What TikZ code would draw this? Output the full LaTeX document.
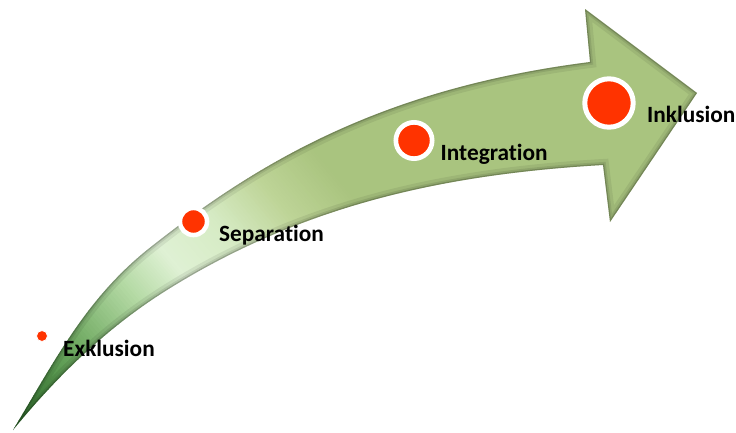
\documentclass[tikz,border=0pt]{standalone}
\usepackage{fontspec}
\setmainfont{Carlito}[Ligatures={NoCommon}]
\definecolor{ga}{HTML}{2E6B2C}
\definecolor{gb}{HTML}{4C8E45}
\definecolor{gc}{HTML}{74AD66}
\definecolor{gd}{HTML}{B5DAA5}
\definecolor{ge}{HTML}{DFF1D4}
\definecolor{gf}{HTML}{D6EBC4}
\definecolor{gg}{HTML}{BED497}
\definecolor{gh}{HTML}{A9C47F}
\definecolor{dotred}{HTML}{FF3300}
\tikzset{
  dotbase/.style={circle, draw=white, fill=dotred, inner sep=0pt},
  lbl/.style={anchor=base west, inner sep=0pt, font=\fontsize{23.3}{28}\selectfont\bfseries, text=black},
}
\begin{document}
\begin{tikzpicture}[x=1pt,y=-1pt]
\useasboundingbox (0,0) rectangle (736,432);
\def\arrowoutline{(13,430) .. controls (54.4,361.6) and (84.8,300.4) .. (147,250)
  .. controls (260,160) and (385,88) .. (590,62)
  -- (585,9) -- (697,93) -- (610,222) -- (603,165)
  .. controls (443.3,174.3) and (302.7,205.2) .. (167,290)
  .. controls (107.6,327.1) and (57.3,375.8) .. (13,430) -- cycle}
\begin{scope}
  \clip \arrowoutline;
  \begin{scope}[shift={(13,430)}, rotate=40]
    \fill[ga] (-80,-900) rectangle (0.5,900);
    \foreach \ta/\tb/\ca/\cb in {0/50/ga/gb, 50/110/gb/gc, 110/180/gc/gd, 180/230/gd/ge, 230/290/ge/gf, 290/350/gf/gg, 350/410/gg/gh} {
      \foreach \k in {0,...,19} {
        \pgfmathsetmacro\pp{5*\k+2.5}
        \pgfmathsetmacro\xa{\ta+(\tb-\ta)*\k/20}
        \pgfmathsetmacro\xb{\ta+(\tb-\ta)*(\k+1)/20+0.6}
        \fill[\cb!\pp!\ca] (\xa,-900) rectangle (\xb,900);
      }
    }
    \fill[gh] (410,-900) rectangle (900,900);
  \end{scope}
  \draw[black, opacity=0.07, line width=12] \arrowoutline;
  \draw[black, opacity=0.09, line width=6] \arrowoutline;
  \draw[black, opacity=0.18, line width=2.5] \arrowoutline;
\end{scope}
\node[dotbase, minimum size=11pt, line width=0.8pt] (pex) at (42,336) {};
\node[dotbase, minimum size=27.1pt, line width=4.5pt] (psep) at (193.5,221.5) {};
\node[dotbase, minimum size=36.3pt, line width=4.7pt] (pint) at (414,140.5) {};
\node[dotbase, minimum size=48.4pt, line width=5pt] (pink) at (609,103) {};
\node[lbl] (lex) at (63,356) {Exklusion};
\node[lbl] (lsep) at (219,241.7) {Separation};
\node[lbl] (lint) at (440.5,160) {Integration};
\node[lbl] (link) at (647,122.7) {Inklusion};
\end{tikzpicture}
\end{document}
